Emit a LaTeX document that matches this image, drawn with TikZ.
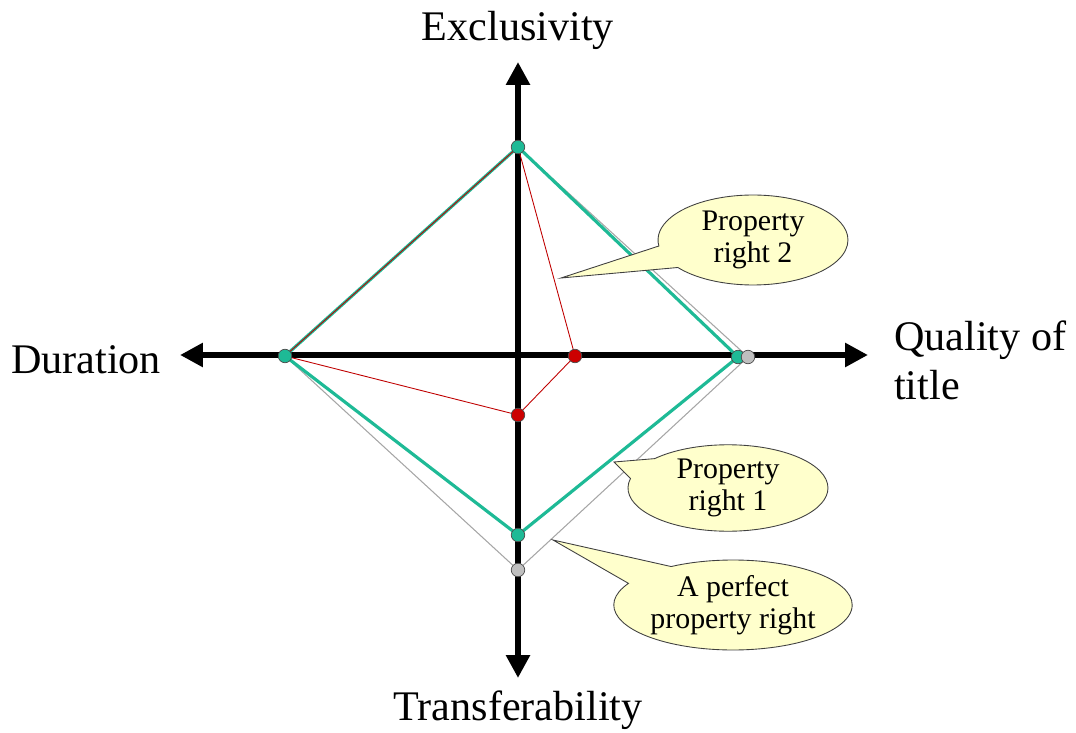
\documentclass[tikz,border=0pt]{standalone}
\usepackage{fontspec}
\setmainfont{Liberation Serif}
\usepackage{tikz}
\usetikzlibrary{arrows.meta,shapes.callouts}
\definecolor{rightgreen}{RGB}{30,186,150}
\definecolor{bubblefill}{RGB}{255,255,204}

\begin{document}
\begin{tikzpicture}[x=0.02cm, y=-0.02cm,
                axis/.style={line width=3.4pt, -{Triangle[length=0.46cm, width=0.46cm]}},
                axislabel/.style={font=\fontsize{24}{28}\selectfont, align=left},
                dot/.style={circle, draw=black!70, line width=0.4pt, inner sep=0pt, minimum size=0.27cm},
                bubble/.style={ellipse callout, draw=black!75, line width=0.5pt, fill=bubblefill,
                               callout pointer arc=30, align=center, inner sep=1pt,
                               font=\fontsize{17}{18}\selectfont}
            ]
                \useasboundingbox (0,0) rectangle (1076,733);
                % axes
                \coordinate (ctr) at (518,355);
                \coordinate (xl) at (180,355);
                \coordinate (xr) at (868,355);
                \coordinate (yt) at (518,62);
                \coordinate (yb) at (518,678);
                \draw[axis] (ctr) -- (xl);
                \draw[axis] (ctr) -- (xr);
                \draw[axis] (ctr) -- (yt);
                \draw[axis] (ctr) -- (yb);
                \node[axislabel] (lex) at (518,30) {Exclusivity};
                \node[axislabel] (ldu) at (86,360) {Duration};
                \node[axislabel, anchor=west] (lqu) at (888,360) {Quality of\\title};
                \node[axislabel] (ltr) at (518,710) {Transferability};
                % corner points
                \coordinate (ex) at (518,147);
                \coordinate (du) at (285,356);
                \coordinate (q1) at (738,357);
                \coordinate (t1) at (518,535);
                \coordinate (qp) at (748,357);
                \coordinate (tp) at (518,570);
                \coordinate (q2) at (575,356);
                \coordinate (t2) at (518,415);
                % a perfect property right
                \draw[gray!70, line width=0.6pt] (ex) -- (qp) -- (tp) -- (du) -- cycle;
                % property right 1
                \draw[rightgreen, line width=1.8pt, line join=round] (ex) -- (q1) -- (t1) -- (du) -- cycle;
                % property right 2
                \draw[red!75!black, line width=0.5pt] (ex) -- (q2) -- (t2) -- (du) -- cycle;
                \foreach \p in {ex,du,q1,t1} \node[dot, fill=rightgreen] at (\p) {};
                \foreach \p in {qp,tp} \node[dot, fill=black!25] at (\p) {};
                \foreach \p in {q2,t2} \node[dot, fill=red!80!black] at (\p) {};
                % callouts
                \coordinate (tip2) at (561,278);
                \coordinate (tip1) at (614,462);
                \coordinate (tipp) at (553,540);
                \node[bubble, minimum width=3.8cm, minimum height=1.8cm, callout absolute pointer={(tip2)}] (pr2) at (753,240) {Property\\right 2};
                \node[bubble, minimum width=4.0cm, minimum height=1.6cm, callout absolute pointer={(tip1)}] (pr1) at (728,488) {Property\\right 1};
                \node[bubble, minimum width=4.2cm, minimum height=1.8cm, callout absolute pointer={(tipp)}] (prp) at (733,605) {A perfect\\property right};
            \end{tikzpicture}
\end{document}
